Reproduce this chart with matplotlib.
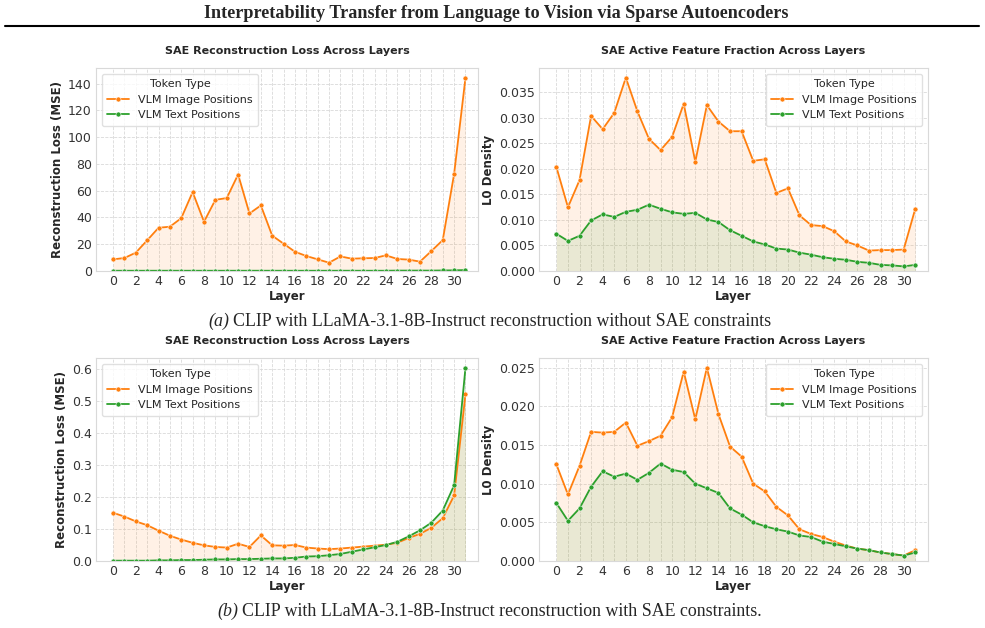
import numpy as np
import matplotlib
matplotlib.use("Agg")
import matplotlib.pyplot as plt
import matplotlib.ticker as plticker
import seaborn as sns

# layers 0..31
layers = list(range(32))
tick_layers = list(range(0, 31, 2))

# (a) without SAE constraints
loss_a_img = [8.7, 9.7, 13.7, 22.9, 32.3, 33.1, 39.5, 59.0, 36.8, 53.2, 54.5, 72.1,
              43.0, 49.0, 26.4, 20.4, 14.4, 11.2, 8.7, 6.2, 10.9, 9.2, 9.5, 9.7,
              11.7, 9.0, 8.5, 7.0, 14.9, 23.1, 72.6, 144.5]
loss_a_txt = [0.2, 0.2, 0.2, 0.2, 0.2, 0.2, 0.2, 0.2, 0.2, 0.2, 0.2, 0.2,
              0.2, 0.2, 0.2, 0.2, 0.2, 0.2, 0.2, 0.2, 0.2, 0.2, 0.2, 0.2,
              0.2, 0.3, 0.3, 0.3, 0.3, 0.4, 0.5, 0.7]
l0_a_img = [0.0204, 0.0125, 0.0178, 0.0304, 0.0278, 0.0310, 0.0379, 0.0313, 0.0259, 0.0237,
            0.0263, 0.0328, 0.0214, 0.0325, 0.0293, 0.0274, 0.0274, 0.0216, 0.0219, 0.0153,
            0.0162, 0.0109, 0.0090, 0.0088, 0.0078, 0.0058, 0.0050, 0.0040, 0.0041, 0.0041,
            0.0042, 0.0122]
l0_a_txt = [0.0073, 0.0059, 0.0069, 0.0099, 0.0111, 0.0106, 0.0116, 0.0120, 0.0130, 0.0122,
            0.0115, 0.0112, 0.0114, 0.0101, 0.0096, 0.0080, 0.0069, 0.0058, 0.0052, 0.0044,
            0.0042, 0.0036, 0.0032, 0.0027, 0.0024, 0.0022, 0.0018, 0.0016, 0.0012, 0.0011,
            0.0009, 0.0012]

# (b) with SAE constraints
loss_b_img = [0.151, 0.139, 0.124, 0.112, 0.095, 0.079, 0.067, 0.057, 0.049, 0.044, 0.042,
              0.054, 0.044, 0.080, 0.049, 0.048, 0.050, 0.042, 0.039, 0.037, 0.039, 0.042,
              0.045, 0.048, 0.051, 0.057, 0.072, 0.085, 0.104, 0.134, 0.205, 0.523]
loss_b_txt = [0.001, 0.001, 0.001, 0.001, 0.002, 0.002, 0.003, 0.003, 0.004, 0.005, 0.005,
              0.006, 0.006, 0.007, 0.008, 0.008, 0.010, 0.014, 0.015, 0.018, 0.022, 0.029,
              0.036, 0.043, 0.050, 0.060, 0.077, 0.096, 0.120, 0.158, 0.237, 0.605]
l0_b_img = [0.0125, 0.0086, 0.0123, 0.0167, 0.0166, 0.0167, 0.0179, 0.0149, 0.0155, 0.0162,
            0.0186, 0.0245, 0.0183, 0.0250, 0.0190, 0.0148, 0.0135, 0.0100, 0.0090, 0.0070,
            0.0059, 0.0041, 0.0035, 0.0031, 0.0025, 0.0020, 0.0016, 0.0014, 0.0011, 0.0009,
            0.0007, 0.0014]
l0_b_txt = [0.0075, 0.0052, 0.0068, 0.0096, 0.0116, 0.0109, 0.0113, 0.0105, 0.0114, 0.0126,
            0.0118, 0.0115, 0.0100, 0.0094, 0.0088, 0.0068, 0.0060, 0.0050, 0.0045, 0.0041,
            0.0038, 0.0033, 0.0031, 0.0025, 0.0022, 0.0019, 0.0016, 0.0014, 0.0011, 0.0009,
            0.0007, 0.0011]

series_names = ["VLM Image Positions", "VLM Text Positions"]
colors = ["#ff7f0e", "#2ca02c"]

sns.set_style("whitegrid", {"grid.linestyle": "--", "axes.edgecolor": ".85"})
plt.rcParams["font.family"] = ["DejaVu Sans"]

fig = plt.figure(figsize=(9.85, 6.28), dpi=100)
W, H = 985.0, 628.0


def panel(rect, img, txt, title, ylabel, legend_loc, ymajor):
    l, t, r, b = rect
    ax = fig.add_axes([l / W, 1 - b / H, (r - l) / W, (b - t) / H])
    for ys, name, c in zip([img, txt], series_names, colors):
        ax.fill_between(layers, ys, 0, color=c, alpha=0.1, lw=0)
        ax.plot(layers, ys, color=c, lw=1.3, marker="o", ms=3.6,
                mec="white", mew=0.4, label=name)
    top = max(max(img), max(txt)) * 1.05
    ax.set_ylim(0, top)
    ax.set_xlim(-1.5, 32.1)
    ax.xaxis.set_major_locator(plticker.FixedLocator(tick_layers))
    ax.xaxis.set_minor_locator(plticker.FixedLocator(layers))
    ax.yaxis.set_major_locator(plticker.MultipleLocator(ymajor))
    ax.grid(which="both", axis="x", linestyle="--", color=".85", lw=0.6)
    ax.grid(which="major", axis="y", linestyle="--", color=".85", lw=0.6)
    ax.tick_params(labelsize=9, colors="#333333", length=0, pad=3)
    ax.set_title(title, fontsize=8, fontweight="bold", color="#262626", pad=10)
    ax.set_xlabel("Layer", fontsize=8.5, fontweight="bold", labelpad=1)
    ax.set_ylabel(ylabel, fontsize=8.5, fontweight="bold", labelpad=3)
    leg = ax.legend(title="Token Type", loc=legend_loc, fontsize=8,
                    title_fontsize=8, frameon=True, borderpad=0.5)
    leg.get_frame().set_edgecolor(".85")
    return ax


panel((96, 68, 478, 271), loss_a_img, loss_a_txt,
      "SAE Reconstruction Loss Across Layers", "Reconstruction Loss (MSE)", "upper left", 20)
panel((539, 68, 928, 271), l0_a_img, l0_a_txt,
      "SAE Active Feature Fraction Across Layers", "L0 Density", "upper right", 0.005)
panel((96, 358, 478, 561), loss_b_img, loss_b_txt,
      "SAE Reconstruction Loss Across Layers", "Reconstruction Loss (MSE)", "upper left", 0.1)
panel((539, 358, 928, 561), l0_b_img, l0_b_txt,
      "SAE Active Feature Fraction Across Layers", "L0 Density", "upper right", 0.005)

serif = ["Liberation Serif", "DejaVu Serif"]
fig.text(496 / W, 1 - 14 / H, "Interpretability Transfer from Language to Vision via Sparse Autoencoders",
         ha="center", va="center", fontsize=13.1, fontweight="bold", family=serif)
fig.add_artist(plt.Line2D([5 / W, 979 / W], [1 - 26 / H, 1 - 26 / H], color="black", lw=1.5))

cap_fs = 12.9
fig.text(208 / W, 1 - 321 / H, "(a)", ha="left", va="center", fontsize=cap_fs,
         style="italic", family=serif)
fig.text(233 / W, 1 - 321 / H, "CLIP with LLaMA-3.1-8B-Instruct reconstruction without SAE constraints",
         ha="left", va="center", fontsize=cap_fs, family=serif)
fig.text(217 / W, 1 - 611 / H, "(b)", ha="left", va="center", fontsize=cap_fs,
         style="italic", family=serif)
fig.text(242 / W, 1 - 611 / H, "CLIP with LLaMA-3.1-8B-Instruct reconstruction with SAE constraints.",
         ha="left", va="center", fontsize=cap_fs, family=serif)

fig.savefig("out.png", dpi=100)
